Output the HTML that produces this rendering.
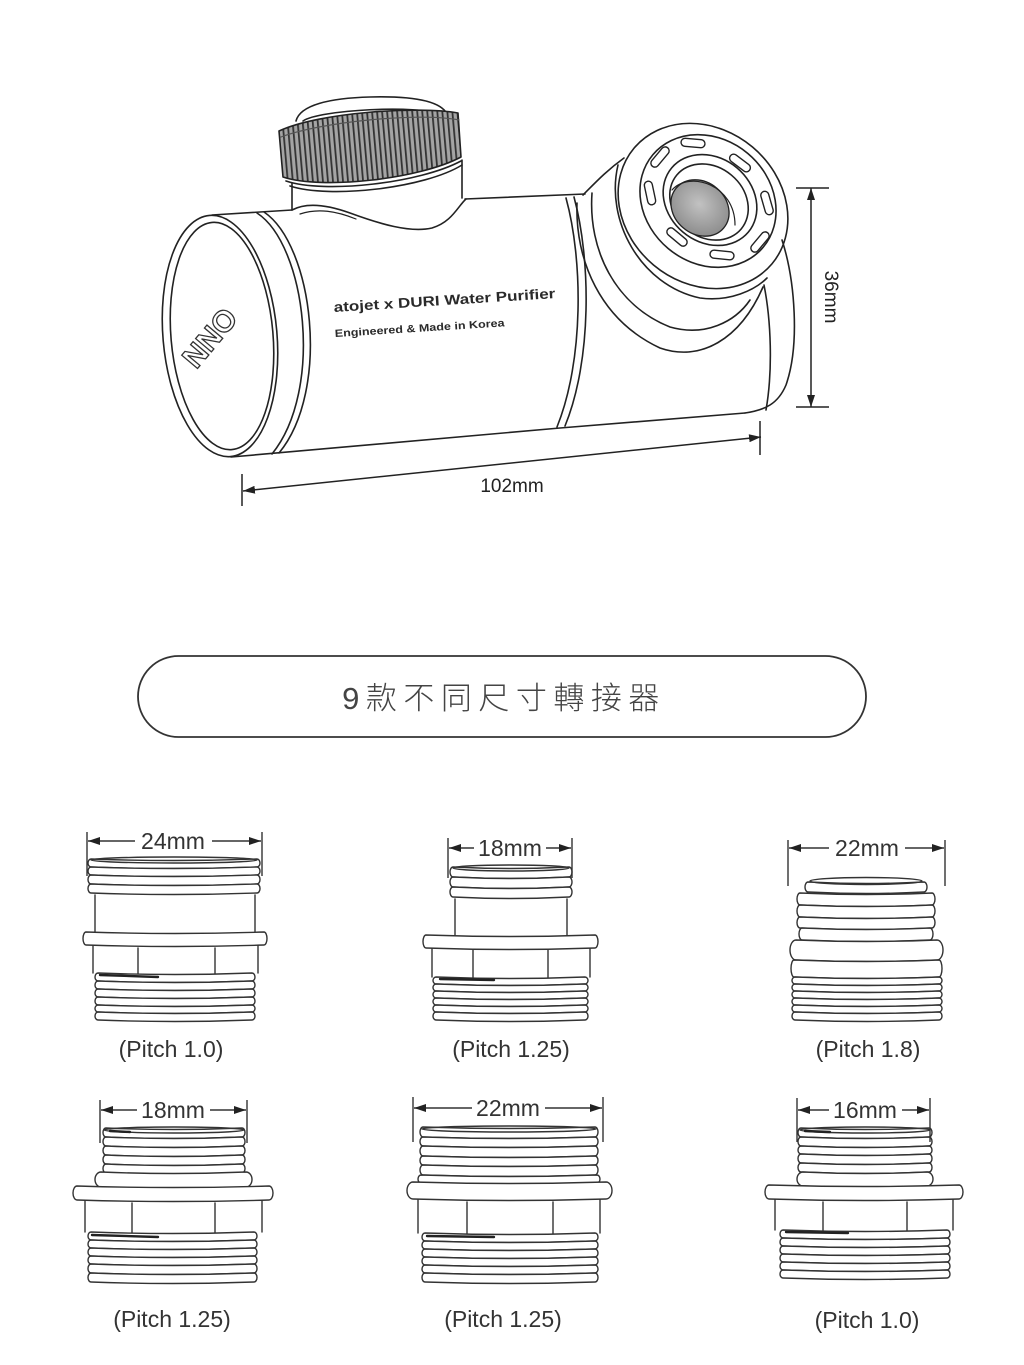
<!DOCTYPE html>
<html><head><meta charset="utf-8"><style>
html,body{margin:0;padding:0;background:#fff;}
svg{display:block;}
text{font-family:"Liberation Sans","Noto Sans CJK TC",sans-serif;}
</style></head><body>
<svg width="1024" height="1365" viewBox="0 0 1024 1365" xmlns="http://www.w3.org/2000/svg">
<defs>
<marker id="ar" viewBox="0 0 12 8" refX="12" refY="4" markerWidth="12" markerHeight="8" markerUnits="userSpaceOnUse" orient="auto-start-reverse"><path d="M0 0L12 4L0 8z" fill="#222"/></marker>
<pattern id="kn" width="5" height="80" patternUnits="userSpaceOnUse" patternTransform="rotate(-5)"><rect width="5" height="80" fill="#a4a4a4"/><rect width="1.8" height="80" fill="#333"/></pattern>
<radialGradient id="fg" cx="0.45" cy="0.45" r="0.6"><stop offset="0" stop-color="#c2c2c2"/><stop offset="1" stop-color="#8a8a8a"/></radialGradient>
</defs>

<!-- ============ MAIN PRODUCT ============ -->
<g fill="none" stroke="#222" stroke-width="1.6" stroke-linecap="round" stroke-linejoin="round">
 <path d="M212 215 L292 210"/>
 <path d="M465 199 L585 194"/>
 <path d="M231 457 L560 428 L745 413"/>
 <ellipse cx="220" cy="336" rx="57" ry="121" transform="rotate(-5 220 336)"/>
 <ellipse cx="222" cy="336" rx="51" ry="114" transform="rotate(-5 222 336)"/>
 <path d="M257 213 C306 245 324 390 272 454"/>
 <path d="M264 212 C313 245 331 390 279 453"/>
 <path d="M566 198 C583 260 584 360 557 427"/>
 <path d="M574 197 C591 260 592 360 565 426"/>
 <path d="M782 240 C795 280 800 345 786 385 C778 404 765 410 745 413"/>
 <path d="M764 285 C771 320 773 370 766 410"/>
 <path d="M583 195 C595 183 606 171 624 158"/>
 <path d="M577 203 C575 260 600 320 660 348 C700 362 740 340 763 287"/>
 <path d="M592 193 C588 250 615 305 670 327 C705 337 735 322 750 300"/>
 <path d="M618 165 C605 220 640 285 700 298 C730 302 755 290 767 278"/>
 <ellipse cx="703" cy="206" rx="90" ry="77" transform="rotate(40 703 206)"/>
 <ellipse cx="708" cy="201" rx="72" ry="62" transform="rotate(40 708 201)"/>
 <ellipse cx="710" cy="200" rx="50" ry="42" transform="rotate(40 710 200)"/>
 <ellipse cx="709" cy="202" rx="42" ry="35" transform="rotate(40 709 202)"/>
 <ellipse cx="700" cy="208" rx="31" ry="26" transform="rotate(40 700 208)" fill="url(#fg)" stroke-width="1.3"/>
 <path d="M672 190 C690 170 735 185 735 225" stroke-width="1.2"/>
 <g stroke-width="1.4">
  <rect x="-12" y="-4" width="24" height="8" rx="4" transform="translate(693 143) rotate(5)"/>
  <rect x="-12" y="-4" width="24" height="8" rx="4" transform="translate(660 157) rotate(-50)"/>
  <rect x="-12" y="-4" width="24" height="8" rx="4" transform="translate(650 193) rotate(78)"/>
  <rect x="-12" y="-4" width="24" height="8" rx="4" transform="translate(677 237) rotate(40)"/>
  <rect x="-12" y="-4" width="24" height="8" rx="4" transform="translate(722 255) rotate(6)"/>
  <rect x="-12" y="-4" width="24" height="8" rx="4" transform="translate(760 242) rotate(-50)"/>
  <rect x="-12" y="-4" width="24" height="8" rx="4" transform="translate(767 203) rotate(74)"/>
  <rect x="-12" y="-4" width="24" height="8" rx="4" transform="translate(740 163) rotate(37)"/>
 </g>
 <path d="M292 210 V183"/>
 <path d="M462 198 V160"/>
 <path d="M290 186 C330 199 425 188 462 165"/>
 <path d="M296 121 C300 105 330 98 370 97 C410 96 440 100 447 114" fill="#fff"/>
 <path d="M303 121 C318 110 420 104 441 115"/>
 <path d="M279 131 L283 177 C322 190 420 179 461 157 L458 113 C420 106 320 112 279 131 Z" fill="url(#kn)"/>
 <path d="M281 137 C320 122 420 112 459 120" stroke="#555" stroke-width="1.2"/>
 <path d="M286 181 C325 194 420 183 461 161"/>
 <path d="M292 210 C305 203 325 204 350 213 C380 224 410 233 432 228 C452 222 458 206 466 199"/>
 <path d="M300 214 C318 208 336 211 356 219" stroke-width="1.2"/>
</g>
<text transform="translate(334 312) rotate(-3.6)" font-size="14" font-weight="bold" fill="#2a2a2a" textLength="222" lengthAdjust="spacingAndGlyphs">atojet x DURI Water Purifier</text>
<text transform="translate(335 337) rotate(-3.6)" font-size="10.5" font-weight="bold" fill="#2a2a2a" textLength="170" lengthAdjust="spacingAndGlyphs">Engineered &amp; Made in Korea</text>
<text transform="translate(210 338) rotate(-50)" text-anchor="middle" dy="10" font-size="30" font-weight="bold" fill="#fff" stroke="#333" stroke-width="1.3">NNO</text>

<g stroke="#222" stroke-width="1.5" fill="none">
 <path d="M243 491 L761 437" marker-start="url(#ar)" marker-end="url(#ar)"/>
 <path d="M242 474 V506"/>
 <path d="M760 421 V455"/>
 <path d="M811 188 V407" marker-start="url(#ar)" marker-end="url(#ar)"/>
 <path d="M796 188 H829"/>
 <path d="M796 407 H829"/>
</g>
<text x="512" y="492" text-anchor="middle" font-size="19" fill="#222">102mm</text>
<text transform="translate(825 297) rotate(90)" text-anchor="middle" font-size="19" fill="#222">36mm</text>

<!-- ============ PILL ============ -->
<rect x="138" y="656" width="728" height="81" rx="40.5" fill="none" stroke="#333" stroke-width="1.8"/>
<text x="504" y="709" text-anchor="middle" font-size="31" font-weight="300" letter-spacing="6.5" fill="#444" style="font-family:'Liberation Sans','Noto Sans CJK TC',sans-serif">9款不同尺寸轉接器</text>

<!-- ============ FITTINGS ============ -->
<g fill="#fff" stroke="#333" stroke-width="1.4" stroke-linejoin="round" stroke-linecap="round">
 <!-- F1 -->
 <path d="M91 859q83 3 166 0a3 4 0 0 1 0 8q-83 3 -166 0a3 4 0 0 1 0 -8z"/>
 <path d="M91 867q83 3 166 0a3 4 0 0 1 0 8q-83 3 -166 0a3 4 0 0 1 0 -8z"/>
 <path d="M91 875q83 3 166 0a3 4.5 0 0 1 0 9q-83 3 -166 0a3 4.5 0 0 1 0 -9z"/>
 <path d="M91 884q83 3 166 0a3 4.5 0 0 1 0 9q-83 3 -166 0a3 4.5 0 0 1 0 -9z"/>
 <ellipse cx="174" cy="860" rx="83" ry="3" fill="none"/>
 <path d="M95 895V933M255 895V933" fill="none"/>
 <path d="M93 945V973M258 945V973M138 948V975M215 948V975" fill="none"/>
 <path d="M86 932q89 3 178 0a3 6.5 0 0 1 0 13q-89 3 -178 0a3 6.5 0 0 1 0 -13z"/>
 <path d="M98 973q77 3 154 0a3 4 0 0 1 0 8q-77 3 -154 0a3 4 0 0 1 0 -8z"/>
 <path d="M98 981q77 3 154 0a3 4 0 0 1 0 8q-77 3 -154 0a3 4 0 0 1 0 -8z"/>
 <path d="M98 989q77 3 154 0a3 4 0 0 1 0 8q-77 3 -154 0a3 4 0 0 1 0 -8z"/>
 <path d="M98 997q77 3 154 0a3 4 0 0 1 0 8q-77 3 -154 0a3 4 0 0 1 0 -8z"/>
 <path d="M98 1005q77 3 154 0a3 3.5 0 0 1 0 7q-77 3 -154 0a3 3.5 0 0 1 0 -7z"/>
 <path d="M98 1012q77 3 154 0a3 4 0 0 1 0 8q-77 3 -154 0a3 4 0 0 1 0 -8z"/>

 <!-- F2 -->
 <path d="M453 867q58 3 116 0a3 5 0 0 1 0 10q-58 3 -116 0a3 5 0 0 1 0 -10z"/>
 <path d="M453 877q58 3 116 0a3 5 0 0 1 0 10q-58 3 -116 0a3 5 0 0 1 0 -10z"/>
 <path d="M453 887q58 3 116 0a3 5 0 0 1 0 10q-58 3 -116 0a3 5 0 0 1 0 -10z"/>
 <ellipse cx="511" cy="868" rx="58" ry="3" fill="none"/>
 <path d="M455 899V936M567 899V936" fill="none"/>
 <path d="M432 948V977M590 948V977M473 950V979M548 950V979" fill="none"/>
 <path d="M426 935q84.5 3 169 0a3 6.5 0 0 1 0 13q-84.5 3 -169 0a3 6.5 0 0 1 0 -13z"/>
 <path d="M436 977q74.5 3 149 0a3 3.5 0 0 1 0 7q-74.5 3 -149 0a3 3.5 0 0 1 0 -7z"/>
 <path d="M436 984q74.5 3 149 0a3 3.5 0 0 1 0 7q-74.5 3 -149 0a3 3.5 0 0 1 0 -7z"/>
 <path d="M436 991q74.5 3 149 0a3 3.5 0 0 1 0 7q-74.5 3 -149 0a3 3.5 0 0 1 0 -7z"/>
 <path d="M436 998q74.5 3 149 0a3 3.5 0 0 1 0 7q-74.5 3 -149 0a3 3.5 0 0 1 0 -7z"/>
 <path d="M436 1005q74.5 3 149 0a3 3.5 0 0 1 0 7q-74.5 3 -149 0a3 3.5 0 0 1 0 -7z"/>
 <path d="M436 1012q74.5 3 149 0a3 4 0 0 1 0 8q-74.5 3 -149 0a3 4 0 0 1 0 -8z"/>

 <!-- F3 -->
 <path d="M808 882q58 3 116 0a3 5 0 0 1 0 10q-58 3 -116 0a3 5 0 0 1 0 -10z"/>
 <path d="M800 893q66 3 132 0a3 6 0 0 1 0 12q-66 3 -132 0a3 6 0 0 1 0 -12z"/>
 <path d="M800 905q66 3 132 0a3 6 0 0 1 0 12q-66 3 -132 0a3 6 0 0 1 0 -12z"/>
 <path d="M800 917q66 3 132 0a3 5.5 0 0 1 0 11q-66 3 -132 0a3 5.5 0 0 1 0 -11z"/>
 <path d="M802 928q64 3 128 0a3 6 0 0 1 0 12q-64 3 -128 0a3 6 0 0 1 0 -12z"/>
 <ellipse cx="866" cy="881" rx="56" ry="3.5" fill="none"/>
 <path d="M796 940q70.5 3 141 0a6 10 0 0 1 0 20q-70.5 3 -141 0a6 10 0 0 1 0 -20z"/>
 <path d="M794 960q72.5 3 145 0a3 8.5 0 0 1 0 17q-72.5 3 -145 0a3 8.5 0 0 1 0 -17z"/>
 <path d="M795 977q72 3 144 0a3 3.5 0 0 1 0 7q-72 3 -144 0a3 3.5 0 0 1 0 -7z"/>
 <path d="M795 984q72 3 144 0a3 3.5 0 0 1 0 7q-72 3 -144 0a3 3.5 0 0 1 0 -7z"/>
 <path d="M795 991q72 3 144 0a3 3.5 0 0 1 0 7q-72 3 -144 0a3 3.5 0 0 1 0 -7z"/>
 <path d="M795 998q72 3 144 0a3 3.5 0 0 1 0 7q-72 3 -144 0a3 3.5 0 0 1 0 -7z"/>
 <path d="M795 1005q72 3 144 0a3 3.5 0 0 1 0 7q-72 3 -144 0a3 3.5 0 0 1 0 -7z"/>
 <path d="M795 1012q72 3 144 0a3 4 0 0 1 0 8q-72 3 -144 0a3 4 0 0 1 0 -8z"/>

 <!-- F4 -->
 <path d="M106 1128q68 3 136 0a3 4.5 0 0 1 0 9q-68 3 -136 0a3 4.5 0 0 1 0 -9z"/>
 <path d="M106 1137q68 3 136 0a3 4.5 0 0 1 0 9q-68 3 -136 0a3 4.5 0 0 1 0 -9z"/>
 <path d="M106 1146q68 3 136 0a3 4.5 0 0 1 0 9q-68 3 -136 0a3 4.5 0 0 1 0 -9z"/>
 <path d="M106 1155q68 3 136 0a3 4.5 0 0 1 0 9q-68 3 -136 0a3 4.5 0 0 1 0 -9z"/>
 <path d="M106 1164q68 3 136 0a3 4.5 0 0 1 0 9q-68 3 -136 0a3 4.5 0 0 1 0 -9z"/>
 <ellipse cx="174" cy="1130" rx="70" ry="3" fill="none"/>
 <path d="M101 1172q72.5 3 145 0a6 7.5 0 0 1 0 15q-72.5 3 -145 0a6 7.5 0 0 1 0 -15z"/>
 <path d="M85 1200V1232M262 1200V1232M132 1203V1235M215 1203V1235" fill="none"/>
 <path d="M77 1186q96 3 192 0a4 7 0 0 1 0 14q-96 3 -192 0a4 7 0 0 1 0 -14z"/>
 <path d="M91 1232q81.5 3 163 0a3 4 0 0 1 0 8q-81.5 3 -163 0a3 4 0 0 1 0 -8z"/>
 <path d="M91 1240q81.5 3 163 0a3 4 0 0 1 0 8q-81.5 3 -163 0a3 4 0 0 1 0 -8z"/>
 <path d="M91 1248q81.5 3 163 0a3 4 0 0 1 0 8q-81.5 3 -163 0a3 4 0 0 1 0 -8z"/>
 <path d="M91 1256q81.5 3 163 0a3 4 0 0 1 0 8q-81.5 3 -163 0a3 4 0 0 1 0 -8z"/>
 <path d="M91 1264q81.5 3 163 0a3 4.5 0 0 1 0 9q-81.5 3 -163 0a3 4.5 0 0 1 0 -9z"/>
 <path d="M91 1273q81.5 3 163 0a3 4.5 0 0 1 0 9q-81.5 3 -163 0a3 4.5 0 0 1 0 -9z"/>

 <!-- F5 -->
 <path d="M423 1127q86 3 172 0a3 5 0 0 1 0 10q-86 3 -172 0a3 5 0 0 1 0 -10z"/>
 <path d="M423 1137q86 3 172 0a3 4.5 0 0 1 0 9q-86 3 -172 0a3 4.5 0 0 1 0 -9z"/>
 <path d="M423 1146q86 3 172 0a3 5 0 0 1 0 10q-86 3 -172 0a3 5 0 0 1 0 -10z"/>
 <path d="M423 1156q86 3 172 0a3 4.5 0 0 1 0 9q-86 3 -172 0a3 4.5 0 0 1 0 -9z"/>
 <path d="M423 1165q86 3 172 0a3 5 0 0 1 0 10q-86 3 -172 0a3 5 0 0 1 0 -10z"/>
 <ellipse cx="509" cy="1129" rx="87" ry="3" fill="none"/>
 <path d="M421 1175q88 3 176 0a3 4 0 0 1 0 8q-88 3 -176 0a3 4 0 0 1 0 -8z"/>
 <path d="M418 1199V1233M600 1199V1233M467 1202V1236M553 1202V1236" fill="none"/>
 <path d="M413 1182q96.5 3 193 0a6 8.5 0 0 1 0 17q-96.5 3 -193 0a6 8.5 0 0 1 0 -17z"/>
 <path d="M425 1233q85 3 170 0a3 4 0 0 1 0 8q-85 3 -170 0a3 4 0 0 1 0 -8z"/>
 <path d="M425 1241q85 3 170 0a3 4 0 0 1 0 8q-85 3 -170 0a3 4 0 0 1 0 -8z"/>
 <path d="M425 1249q85 3 170 0a3 4 0 0 1 0 8q-85 3 -170 0a3 4 0 0 1 0 -8z"/>
 <path d="M425 1257q85 3 170 0a3 4 0 0 1 0 8q-85 3 -170 0a3 4 0 0 1 0 -8z"/>
 <path d="M425 1265q85 3 170 0a3 4 0 0 1 0 8q-85 3 -170 0a3 4 0 0 1 0 -8z"/>
 <path d="M425 1273q85 3 170 0a3 4.5 0 0 1 0 9q-85 3 -170 0a3 4.5 0 0 1 0 -9z"/>

 <!-- F6 -->
 <path d="M801 1128q64 3 128 0a3 4.5 0 0 1 0 9q-64 3 -128 0a3 4.5 0 0 1 0 -9z"/>
 <path d="M801 1137q64 3 128 0a3 4.5 0 0 1 0 9q-64 3 -128 0a3 4.5 0 0 1 0 -9z"/>
 <path d="M801 1146q64 3 128 0a3 4 0 0 1 0 8q-64 3 -128 0a3 4 0 0 1 0 -8z"/>
 <path d="M801 1154q64 3 128 0a3 4.5 0 0 1 0 9q-64 3 -128 0a3 4.5 0 0 1 0 -9z"/>
 <path d="M801 1163q64 3 128 0a3 4.5 0 0 1 0 9q-64 3 -128 0a3 4.5 0 0 1 0 -9z"/>
 <ellipse cx="865" cy="1130" rx="65" ry="3" fill="none"/>
 <path d="M803 1172q62 3 124 0a6 7 0 0 1 0 14q-62 3 -124 0a6 7 0 0 1 0 -14z"/>
 <path d="M775 1199V1230M953 1199V1230M823 1202V1233M907 1202V1233" fill="none"/>
 <path d="M769 1185q95 3 190 0a4 7 0 0 1 0 14q-95 3 -190 0a4 7 0 0 1 0 -14z"/>
 <path d="M783 1230q82 3 164 0a3 4 0 0 1 0 8q-82 3 -164 0a3 4 0 0 1 0 -8z"/>
 <path d="M783 1238q82 3 164 0a3 4 0 0 1 0 8q-82 3 -164 0a3 4 0 0 1 0 -8z"/>
 <path d="M783 1246q82 3 164 0a3 4 0 0 1 0 8q-82 3 -164 0a3 4 0 0 1 0 -8z"/>
 <path d="M783 1254q82 3 164 0a3 4 0 0 1 0 8q-82 3 -164 0a3 4 0 0 1 0 -8z"/>
 <path d="M783 1262q82 3 164 0a3 4 0 0 1 0 8q-82 3 -164 0a3 4 0 0 1 0 -8z"/>
 <path d="M783 1270q82 3 164 0a3 4 0 0 1 0 8q-82 3 -164 0a3 4 0 0 1 0 -8z"/>
</g>

<g stroke="#222" stroke-width="2.4" stroke-linecap="round" fill="none">
 <path d="M100 975 L158 977"/>
 <path d="M440 979 L494 980"/>
 <path d="M92 1235 L158 1237"/>
 <path d="M427 1236 L494 1237"/>
 <path d="M786 1232 L848 1233"/>
 <path d="M110 1131 L130 1132"/>
 <path d="M805 1131 L830 1132"/>
</g>

<g stroke="#333" stroke-width="1.4" fill="none">
 <path d="M87 832V876M262 832V876"/>
 <path d="M135 841L88 841" marker-end="url(#ar)"/><path d="M212 841L261 841" marker-end="url(#ar)"/>
 <path d="M448 838V878M572 838V878"/>
 <path d="M474 848L449 848" marker-end="url(#ar)"/><path d="M546 848L571 848" marker-end="url(#ar)"/>
 <path d="M788 840V886M945 840V886"/>
 <path d="M829 848L789 848" marker-end="url(#ar)"/><path d="M905 848L944 848" marker-end="url(#ar)"/>
 <path d="M100 1100V1143M247 1100V1143"/>
 <path d="M137 1110L101 1110" marker-end="url(#ar)"/><path d="M210 1110L246 1110" marker-end="url(#ar)"/>
 <path d="M413 1097V1142M603 1097V1142"/>
 <path d="M472 1108L414 1108" marker-end="url(#ar)"/><path d="M545 1108L602 1108" marker-end="url(#ar)"/>
 <path d="M797 1098V1142M930 1098V1142"/>
 <path d="M829 1110L798 1110" marker-end="url(#ar)"/><path d="M902 1110L929 1110" marker-end="url(#ar)"/>
</g>
<g font-size="23" fill="#333" text-anchor="middle">
 <text x="173" y="849">24mm</text>
 <text x="510" y="856">18mm</text>
 <text x="867" y="856">22mm</text>
 <text x="173" y="1118">18mm</text>
 <text x="508" y="1116">22mm</text>
 <text x="865" y="1118">16mm</text>
 <text x="171" y="1057">(Pitch 1.0)</text>
 <text x="511" y="1057">(Pitch 1.25)</text>
 <text x="868" y="1057">(Pitch 1.8)</text>
 <text x="172" y="1327">(Pitch 1.25)</text>
 <text x="503" y="1327">(Pitch 1.25)</text>
 <text x="867" y="1328">(Pitch 1.0)</text>
</g>
</svg>
</body></html>
